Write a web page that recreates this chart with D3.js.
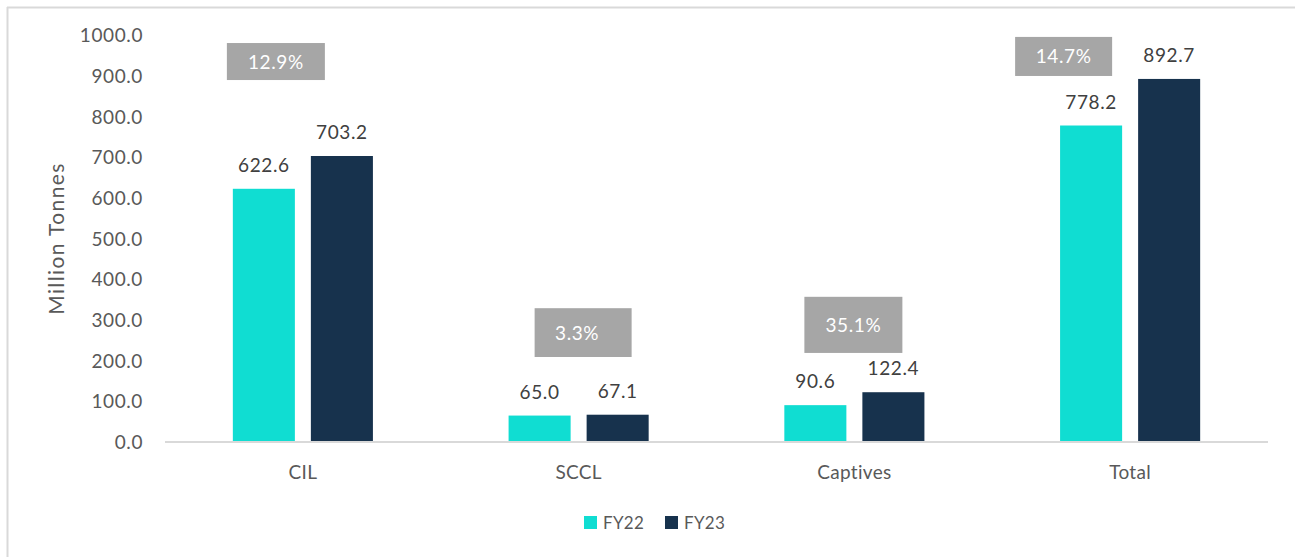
<!DOCTYPE html>
<html>
<head>
<meta charset="utf-8">
<script src="https://cdn.jsdelivr.net/npm/d3@7"></script>
<style>
  html, body { margin: 0; padding: 0; background: #fff; }
  svg { display: block; font-family: Lato, "Open Sans", sans-serif; }
</style>
</head>
<body>
<svg id="chart" width="1295" height="557"></svg>
<script>
// ---- data ----
const categories = ["CIL", "SCCL", "Captives", "Total"];
const seriesNames = ["FY22", "FY23"];
const fy22 = [622.6, 65.0, 90.6, 778.2];
const fy23 = [703.2, 67.1, 122.4, 892.7];
const growthLabels = ["12.9%", "3.3%", "35.1%", "14.7%"];
const yTicks = [0, 100, 200, 300, 400, 500, 600, 700, 800, 900, 1000];

// ---- annotation box placement (value units for top/bottom, px offsets from band centre) ----
const boxTop = [981, 329, 357, 996];
const boxBottom = [890, 209, 219, 900];
const boxLeftOff = [-76, -44, -50, -115];
const boxRightOff = [22, 53, 48, -18];

const colors = { FY22: "#10DDD2", FY23: "#17324D" };

const svg = d3.select("#chart");
const W = 1295, H = 557;
const plot = { left: 165, right: 1268, top: 35.3, bottom: 442 };

// frame (cropped border: top and left)
svg.append("line").attr("x1", 7.5).attr("x2", 7.5).attr("y1", 7).attr("y2", H)
  .attr("stroke", "#d9d9d9").attr("stroke-width", 2);
svg.append("line").attr("x1", 7).attr("x2", W).attr("y1", 7.5).attr("y2", 7.5)
  .attr("stroke", "#d9d9d9").attr("stroke-width", 2);

// cut-off title (only its lowest edge shows, as in the cropped original)
svg.append("text").attr("x", 396).attr("y", -5).attr("text-anchor", "end")
  .attr("font-size", 24).attr("font-weight", "bold").attr("fill", "#000")
  .text("Coal Production (MT)");

const y = d3.scaleLinear().domain([0, 1000]).range([plot.bottom, plot.top]);
const x0 = d3.scaleBand().domain(categories).range([plot.left, plot.right])
  .paddingInner(0.492).paddingOuter(0.246);
const x1 = d3.scaleBand().domain(seriesNames).range([0, x0.bandwidth()]).paddingInner(0.205);

// y axis labels
const yAxis = d3.axisLeft(y).tickValues(yTicks).tickFormat(d3.format(".1f")).tickSize(0).tickPadding(0);
const gy = svg.append("g").attr("transform", "translate(143,0)").call(yAxis);
gy.select(".domain").remove();
gy.selectAll("text").attr("font-size", 19).attr("fill", "#595959")
  .attr("font-family", "Lato, sans-serif").attr("dy", "0.35em").attr("letter-spacing", 0.6);

// y axis title
svg.append("text")
  .attr("transform", `translate(64,238.5) rotate(-90)`)
  .attr("text-anchor", "middle").attr("font-size", 21).attr("fill", "#595959")
  .attr("letter-spacing", 1.4)
  .text("Million Tonnes");

// bars
const rows = categories.map((c, i) => ({ cat: c, values: [
  { key: "FY22", v: fy22[i] }, { key: "FY23", v: fy23[i] }] }));

const groups = svg.append("g").selectAll("g").data(rows).join("g")
  .attr("transform", d => `translate(${x0(d.cat)},0)`);

groups.selectAll("rect").data(d => d.values).join("rect")
  .attr("x", d => x1(d.key)).attr("width", x1.bandwidth())
  .attr("y", d => y(d.v)).attr("height", d => y(0) - y(d.v))
  .attr("fill", d => colors[d.key]);

groups.selectAll("text.val").data(d => d.values).join("text")
  .attr("class", "val")
  .attr("x", d => x1(d.key) + x1.bandwidth() / 2)
  .attr("y", d => y(d.v) - 17)
  .attr("text-anchor", "middle").attr("font-size", 19).attr("fill", "#404040")
  .attr("letter-spacing", 0.6)
  .text(d => d3.format(".1f")(d.v));

// x axis line
const xAxis = d3.axisBottom(x0).tickSize(0).tickPadding(0);
const gx = svg.append("g").attr("transform", `translate(0,${plot.bottom})`).call(xAxis);
gx.select(".domain").attr("stroke", "#d9d9d9").attr("stroke-width", 2)
  .attr("d", `M${plot.left},0H${plot.right}`);
gx.selectAll("text").attr("font-size", 19).attr("fill", "#595959")
  .attr("font-family", "Lato, sans-serif").attr("dy", 0).attr("y", 37).attr("letter-spacing", 0.3);

// growth boxes
categories.forEach((c, i) => {
  const cx = x0(c) + x0.bandwidth() / 2;
  const bx = cx + boxLeftOff[i], bw = boxRightOff[i] - boxLeftOff[i];
  const by = y(boxTop[i]), bh = y(boxBottom[i]) - y(boxTop[i]);
  svg.append("rect").attr("x", bx).attr("y", by).attr("width", bw).attr("height", bh)
    .attr("fill", "#A6A6A6");
  svg.append("text").attr("x", bx + bw / 2 - (i === 1 ? 6 : 0)).attr("y", by + bh / 2 + 7)
    .attr("text-anchor", "middle").attr("font-size", 19).attr("fill", "#ffffff")
    .attr("letter-spacing", 0.6)
    .text(growthLabels[i]);
});

// legend
const legend = svg.append("g");
const legendX = [584, 665];
seriesNames.forEach((s, i) => {
  legend.append("rect").attr("x", legendX[i]).attr("y", 516).attr("width", 13).attr("height", 13)
    .attr("fill", colors[s]);
  legend.append("text").attr("x", legendX[i] + 19).attr("y", 529)
    .attr("font-size", 17).attr("fill", "#595959").attr("letter-spacing", 0.3).text(s);
});
</script>
</body>
</html>
